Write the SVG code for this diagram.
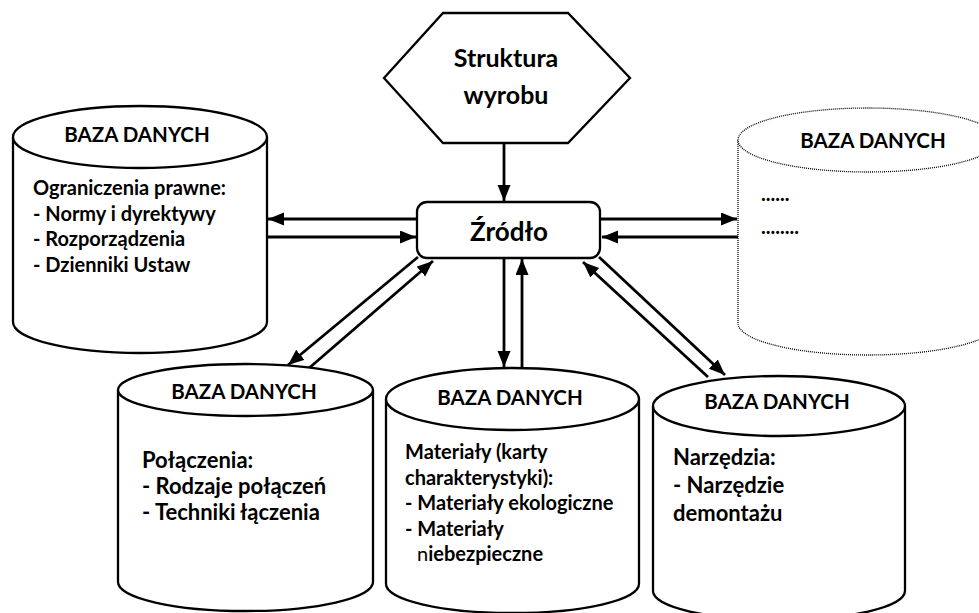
<svg xmlns="http://www.w3.org/2000/svg" width="979" height="613" viewBox="0 0 979 613">
<defs>
<style>
.shape{fill:#fff;stroke:#000;stroke-width:2.3}
.dotted{fill:#fff;stroke:#000;stroke-width:1.3;stroke-dasharray:1 1}
.conn{stroke:#000;stroke-width:2.8;fill:none}
text{font-family:Lato,"Liberation Sans",Arial,sans-serif;font-weight:bold;fill:#000}
.hdr{font-size:20.5px;text-anchor:middle}
.b20{font-size:20px}
.b22{font-size:22px}
.big{font-size:26px;text-anchor:middle}
.reg{font-weight:normal}
</style>
<marker id="ah" markerUnits="userSpaceOnUse" markerWidth="17" markerHeight="14" refX="16" refY="6.5" orient="auto">
<path d="M0,0 L16,6.5 L0,13 z" fill="#000"/>
</marker>
</defs>
<rect width="979" height="613" fill="#fff"/>

<g id="connectors">
<line class="conn" x1="504" y1="143" x2="504" y2="201" marker-end="url(#ah)"/>
<line class="conn" x1="417" y1="219" x2="268" y2="219" marker-end="url(#ah)"/>
<line class="conn" x1="267" y1="237" x2="416" y2="237" marker-end="url(#ah)"/>
<line class="conn" x1="601" y1="219" x2="737" y2="219" marker-end="url(#ah)"/>
<line class="conn" x1="738" y1="237" x2="602" y2="237" marker-end="url(#ah)"/>
<line class="conn" x1="504" y1="258" x2="504" y2="367" marker-end="url(#ah)"/>
<line class="conn" x1="522" y1="368" x2="522" y2="259" marker-end="url(#ah)"/>
<line class="conn" x1="418" y1="257" x2="288" y2="365" marker-end="url(#ah)"/>
<line class="conn" x1="308" y1="369" x2="433" y2="261" marker-end="url(#ah)"/>
<line class="conn" x1="599" y1="257" x2="725" y2="375" marker-end="url(#ah)"/>
<line class="conn" x1="708" y1="377" x2="583" y2="262" marker-end="url(#ah)"/>
</g>

<g id="struktura">
<polygon class="shape" points="443,13 568,13 630,78 568,143 443,143 384,78"/>
<text class="big" x="506" y="67" style="font-size:25px">Struktura</text>
<text class="big" x="506" y="104" style="font-size:25px">wyrobu</text>
</g>

<g id="zrodlo">
<rect class="shape" x="417" y="202" width="183" height="56" rx="10"/>
<text class="big" x="509" y="241">Źródło</text>
</g>

<g id="db-prawne">
<path class="shape" d="M13,137 L13,322 A127,31 0 0 0 267,322 L267,137"/>
<ellipse class="shape" cx="140" cy="137" rx="127" ry="31"/>
<text class="hdr" x="137" y="142">BAZA DANYCH</text>
<text class="b20" x="33" y="195">Ograniczenia prawne:</text>
<text class="b20" x="33" y="221">- Normy i dyrektywy</text>
<text class="b20" x="33" y="246">- Rozporządzenia</text>
<text class="b20" x="33" y="272">- Dzienniki Ustaw</text>
</g>

<g id="db-inne">
<path class="dotted" d="M738,140 L738,323 A130,32 0 0 0 998,323 L998,140"/>
<ellipse class="dotted" cx="868" cy="140" rx="130" ry="32"/>
<text class="hdr" x="873" y="148">BAZA DANYCH</text>
<text class="b20" x="761" y="201">......</text>
<text class="b20" x="761" y="234">........</text>
</g>

<g id="db-polaczenia">
<path class="shape" d="M118,390 L118,582 A127.5,29 0 0 0 373,582 L373,390"/>
<ellipse class="shape" cx="245.5" cy="390" rx="127.5" ry="26"/>
<text class="hdr" x="244" y="399">BAZA DANYCH</text>
<text class="b22" x="142" y="468">Połączenia:</text>
<text class="b22" x="142" y="494">- Rodzaje połączeń</text>
<text class="b22" x="142" y="520">- Techniki łączenia</text>
</g>

<g id="db-materialy">
<path class="shape" d="M386,399 L386,584 A126.5,29 0 0 0 639,584 L639,399"/>
<ellipse class="shape" cx="512.5" cy="399" rx="126.5" ry="31"/>
<text class="hdr" x="510" y="405">BAZA DANYCH</text>
<text class="b20" x="405" y="459">Materiały (karty</text>
<text class="b20" x="405" y="484.5">charakterystyki):</text>
<text class="b20" x="405" y="510">- Materiały ekologiczne</text>
<text class="b20" x="405" y="535.5">- Materiały</text>
<text class="b20" x="417" y="561"><tspan class="reg">n</tspan>iebezpieczne</text>
</g>

<g id="db-narzedzia">
<path class="shape" d="M653,406 L653,591 A126,29 0 0 0 905,591 L905,406"/>
<ellipse class="shape" cx="779" cy="406" rx="126" ry="30"/>
<text class="hdr" x="777" y="409">BAZA DANYCH</text>
<text class="b22" x="673" y="465">Narzędzia:</text>
<text class="b22" x="673" y="493">- Narzędzie</text>
<text class="b22" x="673" y="521">demontażu</text>
</g>
</svg>
